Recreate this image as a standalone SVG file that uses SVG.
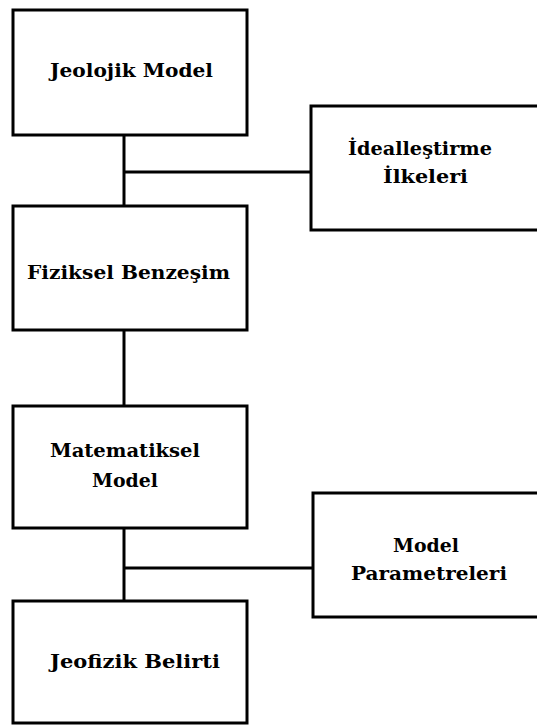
<svg xmlns="http://www.w3.org/2000/svg" width="537" height="725" viewBox="0 0 537 725">
<style>
.box{fill:#fff;stroke:#000;stroke-width:3}
.ln{stroke:#000;stroke-width:3;fill:none}
text{font-family:"DejaVu Serif","Liberation Serif",serif;font-weight:bold;font-size:19px;fill:#000}
</style>
<rect width="537" height="725" fill="#fff"/>
<g id="connectors">
<line class="ln" x1="124" y1="135" x2="124" y2="206"/>
<line class="ln" x1="124" y1="172" x2="311" y2="172"/>
<line class="ln" x1="124" y1="330" x2="124" y2="406"/>
<line class="ln" x1="124" y1="528" x2="124" y2="601"/>
<line class="ln" x1="124" y1="568" x2="313" y2="568"/>
</g>
<g id="jeolojik">
<rect class="box" x="13" y="10" width="234" height="125"/>
<text x="50" y="77" textLength="163" lengthAdjust="spacingAndGlyphs">Jeolojik Model</text>
</g>
<g id="ideal">
<rect class="box" x="311" y="106" width="240" height="124"/>
<text x="348" y="155" textLength="144" lengthAdjust="spacingAndGlyphs">İdealleştirme</text>
<text x="383" y="183" textLength="85" lengthAdjust="spacingAndGlyphs">İlkeleri</text>
</g>
<g id="fiziksel">
<rect class="box" x="13" y="206" width="234" height="124"/>
<text x="27" y="279" textLength="203" lengthAdjust="spacingAndGlyphs">Fiziksel Benzeşim</text>
</g>
<g id="matematiksel">
<rect class="box" x="13" y="406" width="234" height="122"/>
<text x="50" y="457" textLength="150" lengthAdjust="spacingAndGlyphs">Matematiksel</text>
<text x="92" y="487" textLength="66" lengthAdjust="spacingAndGlyphs">Model</text>
</g>
<g id="parametre">
<rect class="box" x="313" y="493" width="240" height="124"/>
<text x="393" y="552" textLength="66" lengthAdjust="spacingAndGlyphs">Model</text>
<text x="351" y="580" textLength="156" lengthAdjust="spacingAndGlyphs">Parametreleri</text>
</g>
<g id="jeofizik">
<rect class="box" x="13" y="601" width="234" height="122"/>
<text x="50" y="668" textLength="170" lengthAdjust="spacingAndGlyphs">Jeofizik Belirti</text>
</g>
</svg>
